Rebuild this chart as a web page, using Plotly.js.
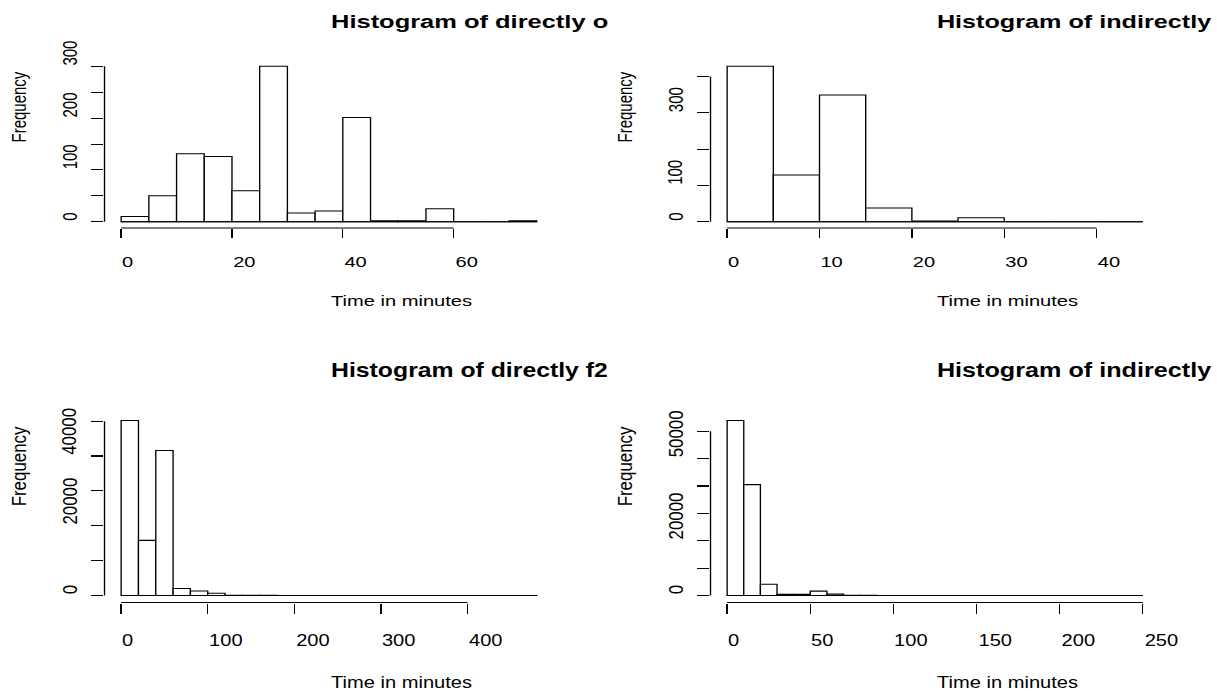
<!DOCTYPE html>
<html><head><meta charset="utf-8">
<script src="https://cdn.plot.ly/plotly-3.0.1.min.js"></script>
<style>
html,body{margin:0;padding:0;background:#fff;}
#wrap{position:relative;width:1217px;height:692px;overflow:hidden;background:#fff;}
.panel{position:absolute;overflow:hidden;transform-origin:0 0;}
</style></head><body>
<div id="wrap">
  <div id="p1" class="panel"></div>
  <div id="p2" class="panel"></div>
  <div id="p3" class="panel"></div>
  <div id="p4" class="panel"></div>
</div>
<script>
// ---------- data ----------
const p1Title = "Histogram of directly or";
const p1Breaks = [0,5,10,15,20,25,30,35,40,45,50,55,60,65,70,75];
const p1Counts = [10,50,131,126,60,300,17,21,201,2,2,25,0,0,2];
const p1XTicks = [0,20,40,60];
const p1YTicks = [0,50,100,150,200,250,300];
const p1YLabels = [0,100,200,300];

const p2Title = "Histogram of indirectly";
const p2Breaks = [0,5,10,15,20,25,30,35,40,45];
const p2Counts = [428,129,349,38,2,11,0,0,0];
const p2XTicks = [0,10,20,30,40];
const p2YTicks = [0,100,200,300,400];
const p2YLabels = [0,100,300];

const p3Title = "Histogram of directly f2";
const p3Breaks = [0,20,40,60,80,100,120,140,160,180,200,220,240,260,280,300,320,340,360,380,400,420,440,460,480];
const p3Counts = [50200,15800,41600,2000,1300,650,60,30,20,10,8,5,4,3,2,2,1,1,1,1,0,1,0,1];
const p3XTicks = [0,100,200,300,400];
const p3YTicks = [0,10000,20000,30000,40000,50000];
const p3YLabels = [0,20000,40000];

const p4Title = "Histogram of indirectly";
const p4Breaks = [0,10,20,30,40,50,60,70,80,90,100,110,120,130,140,150,160,170,180,190,200,210,220,230,240,250];
const p4Counts = [63900,40500,4100,400,400,1600,500,60,30,20,15,10,8,5,4,3,2,2,1,1,1,1,0,1,1];
const p4XTicks = [0,50,100,150,200,250];
const p4YTicks = [0,10000,20000,30000,40000,50000,60000];
const p4YLabels = [0,20000,50000];

const xLabel = "Time in minutes";
const yLabel = "Frequency";

// ---------- drawing ----------
const FONT = "Liberation Sans, Arial, Helvetica, sans-serif";
const SX = 1.34;           // horizontal stretch of the picture
const W = 454;             // panel width before stretch
const L = 77.6, PW = 335.4, T = 60, PH = 168.5;

function panel(id, left, top, h, sy, xlabY, titleSize, title, breaks, counts, xTicks, yTicks, yLabels) {
  const el = document.getElementById(id);
  el.style.left = left + "px";
  el.style.top = top + "px";
  el.style.width = W + "px";
  el.style.height = h + "px";
  el.style.transform = "scale(" + SX + "," + sy + ")";

  const mids = [], widths = [];
  for (let i = 0; i < counts.length; i++) {
    mids.push((breaks[i] + breaks[i + 1]) / 2);
    widths.push(breaks[i + 1] - breaks[i]);
  }
  const x0 = breaks[0], x1 = breaks[breaks.length - 1];
  const xpad = 0.04 * (x1 - x0);
  const ymax = Math.max.apply(null, counts);

  const blk = {color: "#000", width: 1};
  const shapes = [
    {type: "line", xref: "x", yref: "paper", x0: xTicks[0], x1: xTicks[xTicks.length - 1], y0: 0, y1: 0, line: blk},
    {type: "line", xref: "paper", yref: "y", x0: 0, x1: 0, y0: yTicks[0], y1: yTicks[yTicks.length - 1], line: blk},
    {type: "line", xref: "x", yref: "y", x0: x0, x1: x1, y0: 0, y1: 0, line: blk}
  ];

  const ann = [];
  ann.push({text: title, xref: "paper", yref: "paper", x: 0.5, y: 1, xanchor: "left", yanchor: "middle",
            yshift: T - 21, showarrow: false, borderpad: 0, font: {size: titleSize, weight: "bold", color: "#000", family: FONT}});
  ann.push({text: xLabel, xref: "paper", yref: "paper", x: 0.5, y: 0, xanchor: "left", yanchor: "middle",
            yshift: -(xlabY - (T + PH)), showarrow: false, borderpad: 0, font: {size: 15, color: "#000", family: FONT}});
  ann.push({text: yLabel, xref: "paper", yref: "paper", x: 0, y: 0.5, xanchor: "center", yanchor: "bottom",
            xshift: -64, textangle: -90, showarrow: false, borderpad: 0, font: {size: 15, color: "#000", family: FONT}});
  xTicks.forEach(v => ann.push({text: String(v), xref: "x", yref: "paper", x: v, y: 0, xanchor: "left", yanchor: "middle",
            yshift: -33.2, showarrow: false, borderpad: 0, font: {size: 15, color: "#000", family: FONT}}));
  yLabels.forEach(v => ann.push({text: String(v), xref: "paper", yref: "y", x: 0, y: v, xanchor: "center", yanchor: "bottom",
            xshift: -26.1, textangle: -90, showarrow: false, borderpad: 0, font: {size: 15, color: "#000", family: FONT}}));

  const trace = {
    type: "bar", x: mids, y: counts, width: widths,
    marker: {color: "#ffffff", line: {color: "#000", width: 1}},
    hoverinfo: "skip"
  };

  const axisBase = {showgrid: false, zeroline: false, showline: false, ticks: "outside", ticklen: 9,
                    tickwidth: 1, tickcolor: "#000", showticklabels: false, fixedrange: true};

  const layout = {
    width: W, height: h,
    margin: {l: L, r: W - L - PW, t: T, b: h - T - PH, pad: 0},
    paper_bgcolor: "rgba(0,0,0,0)", plot_bgcolor: "rgba(0,0,0,0)",
    showlegend: false,
    font: {family: FONT, size: 15, color: "#000"},
    xaxis: Object.assign({range: [x0 - xpad, x1 + xpad], tickmode: "array", tickvals: xTicks}, axisBase),
    yaxis: Object.assign({range: [-0.04 * ymax, 1.04 * ymax], tickmode: "array", tickvals: yTicks}, axisBase),
    shapes: shapes,
    annotations: ann
  };
  Plotly.newPlot(el, [trace], layout, {staticPlot: true, displayModeBar: false});
}

panel("p1", 0, 0, 346, 1, 301, 19, p1Title, p1Breaks, p1Counts, p1XTicks, p1YTicks, p1YLabels);
panel("p2", 605.5, 0, 346, 1, 301, 18.8, p2Title, p2Breaks, p2Counts, p2XTicks, p2YTicks, p2YLabels);
panel("p3", 0, 346, 308, 1.125, 298.5, 18.5, p3Title, p3Breaks, p3Counts, p3XTicks, p3YTicks, p3YLabels);
panel("p4", 605.5, 346, 308, 1.125, 298.5, 18.8, p4Title, p4Breaks, p4Counts, p4XTicks, p4YTicks, p4YLabels);
</script>
</body></html>
